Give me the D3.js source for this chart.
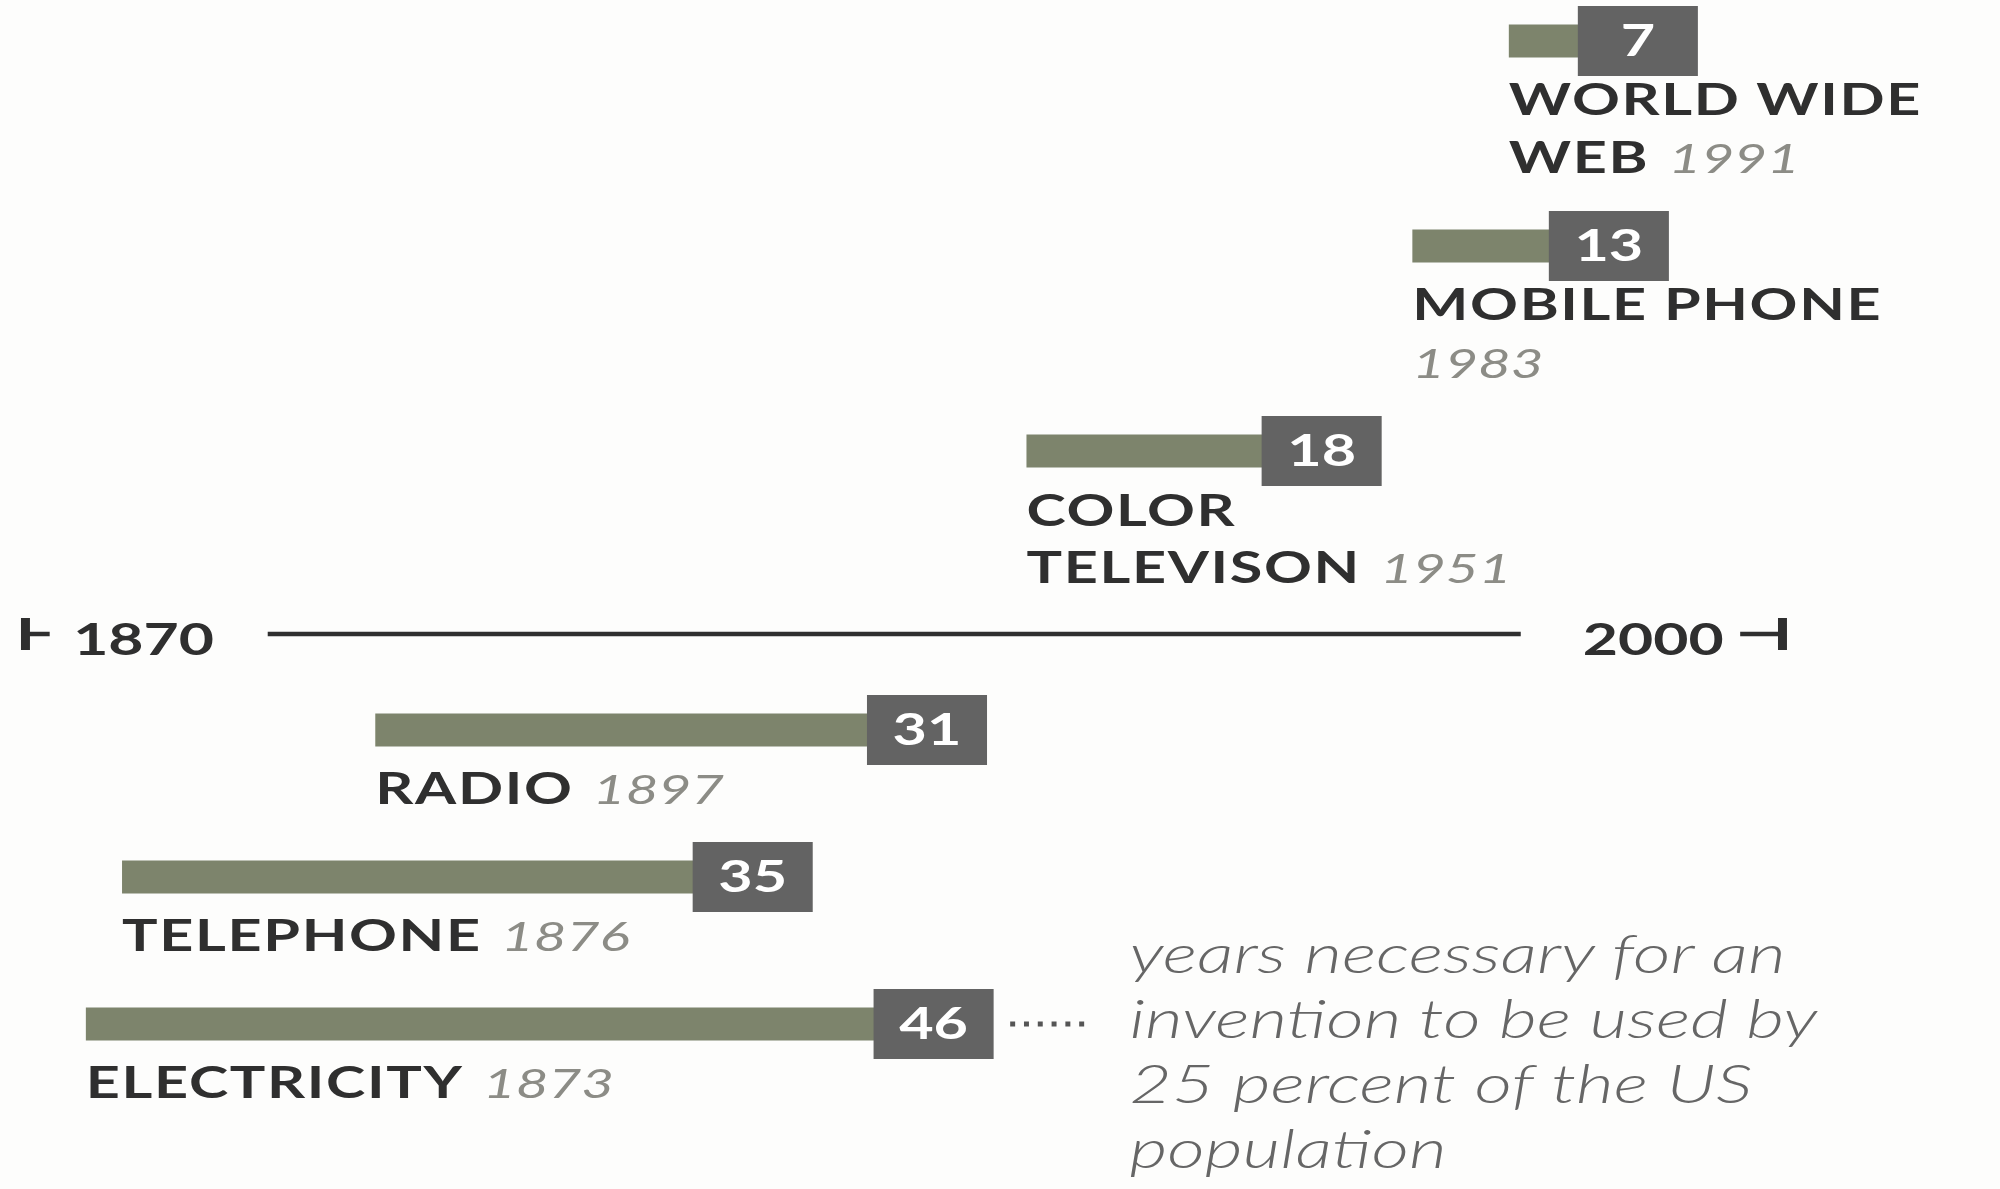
<!DOCTYPE html>
<html><head><meta charset="utf-8">
<script src="https://cdn.jsdelivr.net/npm/d3@7"></script>
<style>
html,body{margin:0;padding:0;background:#fdfdfc;}
svg{display:block;}
</style></head><body>
<svg id="chart"></svg>
<script>
// ---- data ----
const inventions = ["ELECTRICITY", "TELEPHONE", "RADIO", "COLOR\nTELEVISON", "MOBILE PHONE\n", "WORLD WIDE\nWEB"];
const inventionYears = [1873, 1876, 1897, 1951, 1983, 1991];
const yearsToQuarter = [46, 35, 31, 18, 13, 7];
const axisLabels = ["1870", "2000"];
const axisDomain = [1870, 2000];
const noteLines = ["years necessary for an", "invention to be used by", "25 percent of the US", "population"];

// ---- layout ----
const W = 2000, H = 1189, STRETCH = 1.38;
const VW = W / STRETCH;
const svg = d3.select("#chart").attr("width", W).attr("height", H)
  .attr("viewBox", `0 0 ${VW} ${H}`).attr("preserveAspectRatio", "none");
svg.append("rect").attr("width", VW).attr("height", H).attr("fill", "#fdfdfc");

const FONT = "Lato, 'Open Sans', sans-serif";
const x = d3.scaleLinear().domain(axisDomain).range([36, 1172]);
const len = d3.scaleLinear().domain([0, 1]).range([0, 14.3]);

const axisY = 634, boxH = 70, barH = 33, lineH = 58, firstBase = 58, rowGap = 37.5;
const boxW = 87, minStub = 50;
const belowCount = 3;
const depth = n => barH / 2 + firstBase + (n - 1) * lineH;

const data = inventions.map((name, i) => ({
  lines: name.split("\n"), year: inventionYears[i], value: yearsToQuarter[i]
}));
let yb = axisY + 61 + boxH / 2;
for (let i = belowCount - 1; i >= 0; i--) {
  data[i].cy = yb;
  yb += depth(data[i].lines.length) + rowGap + boxH / 2;
}
for (let i = belowCount; i < data.length; i++) {
  data[i].cy = (i === belowCount)
    ? axisY - 50.5 - depth(data[i].lines.length)
    : data[i - 1].cy - (depth(data[i].lines.length) + rowGap + boxH / 2);
}
data.forEach(d => {
  d.x0 = x(d.year);
  d.L = Math.max(len(d.value), boxW + minStub);
});

// ---- axis ----
const ax = svg.append("g").attr("fill", "#2f2f2f").attr("stroke", "#2f2f2f");
ax.append("line").attr("x1", 194).attr("x2", 1102).attr("y1", axisY).attr("y2", axisY).attr("stroke-width", 4.5);
ax.append("rect").attr("x", 15.2).attr("y", axisY - 16).attr("width", 6.5).attr("height", 32).attr("stroke", "none");
ax.append("line").attr("x1", 21).attr("x2", 36).attr("y1", axisY).attr("y2", axisY).attr("stroke-width", 4.5);
ax.append("rect").attr("x", 1288.4).attr("y", axisY - 16).attr("width", 6.5).attr("height", 32).attr("stroke", "none");
ax.append("line").attr("x1", 1261).attr("x2", 1289).attr("y1", axisY).attr("y2", axisY).attr("stroke-width", 4.5);
ax.selectAll("text.axl").data(axisLabels).join("text").attr("class", "axl")
  .attr("x", (d, i) => i === 0 ? 53 : 1147).attr("y", axisY + 21)
  .attr("stroke", "none").attr("font-family", FONT).attr("font-weight", 700)
  .attr("font-size", 44).text(d => d);

// ---- bars ----
const rows = svg.selectAll("g.row").data(data).join("g").attr("class", "row");
rows.append("rect").attr("x", d => d.x0).attr("y", d => d.cy - barH / 2)
  .attr("width", d => d.L - boxW / 2).attr("height", barH).attr("fill", "#7d846c");
rows.append("rect").attr("x", d => d.x0 + d.L - boxW).attr("y", d => d.cy - boxH / 2)
  .attr("width", boxW).attr("height", boxH).attr("fill", "#636363");
rows.append("text").attr("x", d => d.x0 + d.L - boxW / 2).attr("y", d => d.cy)
  .attr("dy", "0.36em").attr("text-anchor", "middle").attr("fill", "#ffffff")
  .attr("font-family", FONT).attr("font-weight", 700).attr("font-size", 43)
  .text(d => d.value);

// ---- labels ----
rows.each(function (d) {
  const g = d3.select(this);
  d.lines.forEach((ln, k) => {
    const t = g.append("text").attr("x", d.x0)
      .attr("y", d.cy + barH / 2 + firstBase + k * lineH)
      .attr("font-family", FONT).attr("font-size", 43);
    if (ln) t.append("tspan").attr("font-weight", 700).attr("fill", "#2f2f2f")
      .attr("letter-spacing", 1.2).text(ln);
    if (k === d.lines.length - 1) {
      t.append("tspan").attr("dx", ln ? 14 : 0).attr("font-style", "italic")
        .attr("font-weight", 400).attr("font-size", 41).attr("fill", "#8c8c86").text(d.year);
    }
  });
});

// ---- annotation ----
const ref = data[0];
const refEnd = ref.x0 + ref.L;
svg.append("line").attr("x1", refEnd + 12).attr("x2", 789).attr("y1", ref.cy).attr("y2", ref.cy)
  .attr("stroke", "#555").attr("stroke-width", 5).attr("stroke-dasharray", "3.6 6.4");
svg.selectAll("text.note").data(noteLines).join("text").attr("class", "note")
  .attr("x", 818.5).attr("y", (d, i) => ref.cy - 51 + i * 65)
  .attr("font-family", FONT).attr("font-style", "italic").attr("font-weight", 300)
  .attr("font-size", 53).attr("fill", "#666666").text(d => d);
</script>
</body></html>
